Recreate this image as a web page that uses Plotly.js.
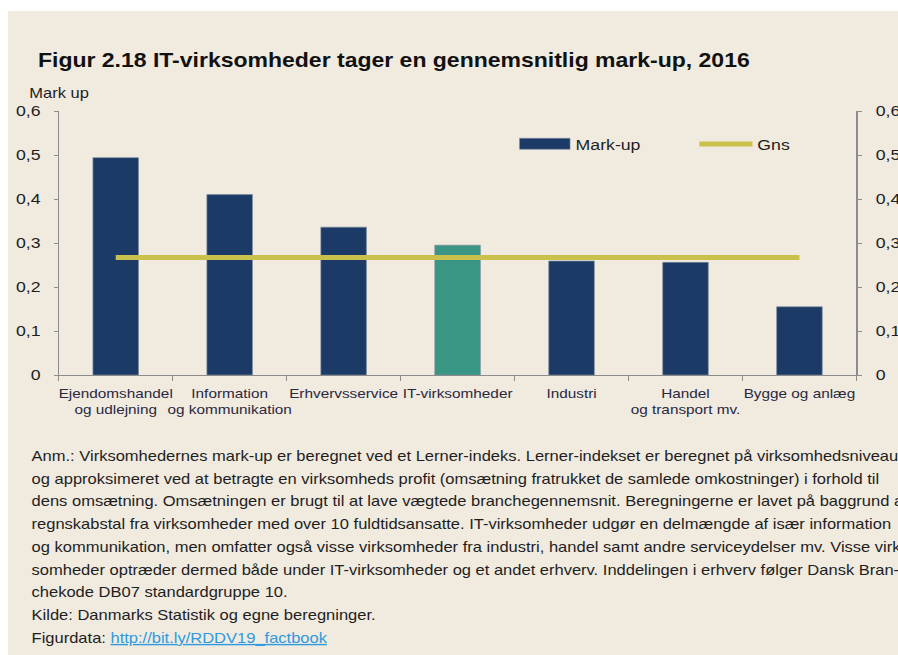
<!DOCTYPE html>
<html>
<head>
<meta charset="utf-8">
<script src="https://cdn.plot.ly/plotly-3.0.1.min.js"></script>
<style>
  html, body { margin:0; padding:0; background:#ffffff; overflow:hidden; width:898px; height:655px; }
  #wrap { position:absolute; left:8px; top:11px; width:755px; height:644px; transform:scaleX(1.18); transform-origin:0 0; }
  #chart { width:755px; height:644px; }
</style>
</head>
<body>
<div id="wrap"><div id="chart"></div></div>
<script>
// ---- data ----
const categories = [
  "Ejendomshandel<br>og udlejning",
  "Information<br>og kommunikation",
  "Erhvervsservice",
  "IT-virksomheder",
  "Industri",
  "Handel<br>og transport mv.",
  "Bygge og anlæg"
];
const markup = [0.494, 0.410, 0.336, 0.295, 0.259, 0.256, 0.155];
const gns = [0.267, 0.267, 0.267, 0.267, 0.267, 0.267, 0.267];
const yTickVals = [0, 0.1, 0.2, 0.3, 0.4, 0.5, 0.6];
const yTickText = ["0", "0,1", "0,2", "0,3", "0,4", "0,5", "0,6"];
const noteLines = [
  "Anm.: Virksomhedernes mark-up er beregnet ved et Lerner-indeks. Lerner-indekset er beregnet på virksomhedsniveau",
  "og approksimeret ved at betragte en virksomheds profit (omsætning fratrukket de samlede omkostninger) i forhold til",
  "dens omsætning. Omsætningen er brugt til at lave vægtede branchegennemsnit. Beregningerne er lavet på baggrund af",
  "regnskabstal fra virksomheder med over 10 fuldtidsansatte. IT-virksomheder udgør en delmængde af især information",
  "og kommunikation, men omfatter også visse virksomheder fra industri, handel samt andre serviceydelser mv. Visse virk-",
  "somheder optræder dermed både under IT-virksomheder og et andet erhverv. Inddelingen i erhverv følger Dansk Bran-",
  "chekode DB07 standardgruppe 10.",
  "Kilde: Danmarks Statistik og egne beregninger.",
  "Figurdata: <span style=\"color:#2e9be0;text-decoration:underline\">http://bit.ly/RDDV19_factbook</span>"
];

// ---- styling / layout helpers ----
const S = 1.18;            // horizontal scale of the wrapper
const W = 755, H = 644;    // local size
const M = {l: 43.2, r: 35.5, t: 100, b: 280};
const PW = W - M.l - M.r, PH = H - M.t - M.b;
function fx(pageX) { return ((pageX - 8) / S - M.l) / PW; }
function fy(pageY) { return (H - M.b - (pageY - 11)) / PH; }

const NAVY = "#1c3a66", TEAL = "#3a9684", GNS = "#c9c14b", BG = "#f0eadf";
const AXC = "#8c8c8c", TXT = "#1e1e1e";
const FONT = "Liberation Sans, Arial, sans-serif";

const barColors = categories.map(c => c === "IT-virksomheder" ? TEAL : NAVY);

const traces = [
  {
    type: "bar", x: categories, y: markup, name: "Mark-up",
    marker: {color: barColors, line: {width: 0.6, color: "#7d8ca0"}},
    showlegend: false, hoverinfo: "x+y", yaxis: "y"
  },
  {
    type: "scatter", mode: "lines", x: categories, y: gns, name: "Gns",
    line: {color: GNS, width: 5}, showlegend: false, yaxis: "y2"
  }
];

const noteY0 = 456, noteDy = 22.7;
const annotations = noteLines.map((t, i) => ({
  text: t, xref: "paper", yref: "paper", x: fx(29), y: fy(noteY0 + i * noteDy),
  xanchor: "left", yanchor: "middle", showarrow: false, align: "left",
  font: {family: FONT, size: 14, color: TXT}
}));
annotations.push({
  text: "Mark up", xref: "paper", yref: "paper", x: fx(27), y: fy(93),
  xanchor: "left", yanchor: "middle", showarrow: false,
  font: {family: FONT, size: 14, color: TXT}
});
annotations.push({
  text: "Mark-up", xref: "paper", yref: "paper", x: fx(574), y: fy(144),
  xanchor: "left", yanchor: "middle", showarrow: false,
  font: {family: FONT, size: 15, color: TXT}
});
annotations.push({
  text: "Gns", xref: "paper", yref: "paper", x: fx(755.5), y: fy(144),
  xanchor: "left", yanchor: "middle", showarrow: false,
  font: {family: FONT, size: 15, color: TXT}
});

const shapes = [
  {type: "rect", xref: "paper", yref: "paper", x0: fx(520), x1: fx(570.5), y0: fy(149.3), y1: fy(138.3),
   fillcolor: NAVY, line: {width: 0.6, color: "#7d8ca0"}},
  {type: "line", xref: "paper", yref: "paper", x0: fx(700), x1: fx(753), y0: fy(144), y1: fy(144),
   line: {color: GNS, width: 5}}
];

const yBase = {
  range: [0, 0.6], tickmode: "array", tickvals: yTickVals, ticktext: yTickText,
  showgrid: false, zeroline: false, showline: true, linecolor: AXC, linewidth: 1,
  ticks: "outside", ticklen: 3.4, tickcolor: AXC, tickwidth: 1,
  tickfont: {family: FONT, size: 15, color: TXT}, fixedrange: true
};

const layout = {
  width: W, height: H,
  margin: M,
  paper_bgcolor: BG, plot_bgcolor: BG,
  title: {
    text: "<b>Figur 2.18 IT-virksomheder tager en gennemsnitlig mark-up, 2016</b>",
    xref: "container", yref: "container", x: 25.4 / W, y: 1 - 49 / H,
    xanchor: "left", yanchor: "middle",
    font: {family: FONT, size: 19.5, color: "#111111"}
  },
  bargap: 0.6,
  xaxis: {
    type: "category", showgrid: false, zeroline: false,
    showline: true, linecolor: AXC, linewidth: 1,
    ticks: "outside", tickson: "boundaries", ticklen: 5, tickcolor: AXC, tickwidth: 1,
    tickfont: {family: FONT, size: 13, color: "#2a2840"}, tickangle: 0,
    ticklabelstandoff: 6, fixedrange: true
  },
  yaxis: Object.assign({}, yBase, {side: "left", ticklabelstandoff: 8}),
  yaxis2: Object.assign({}, yBase, {side: "right", overlaying: "y", ticklabelstandoff: 9}),
  showlegend: false,
  annotations: annotations,
  shapes: shapes,
  font: {family: FONT, color: TXT}
};

Plotly.newPlot("chart", traces, layout, {displayModeBar: false, staticPlot: true});
</script>
</body>
</html>
